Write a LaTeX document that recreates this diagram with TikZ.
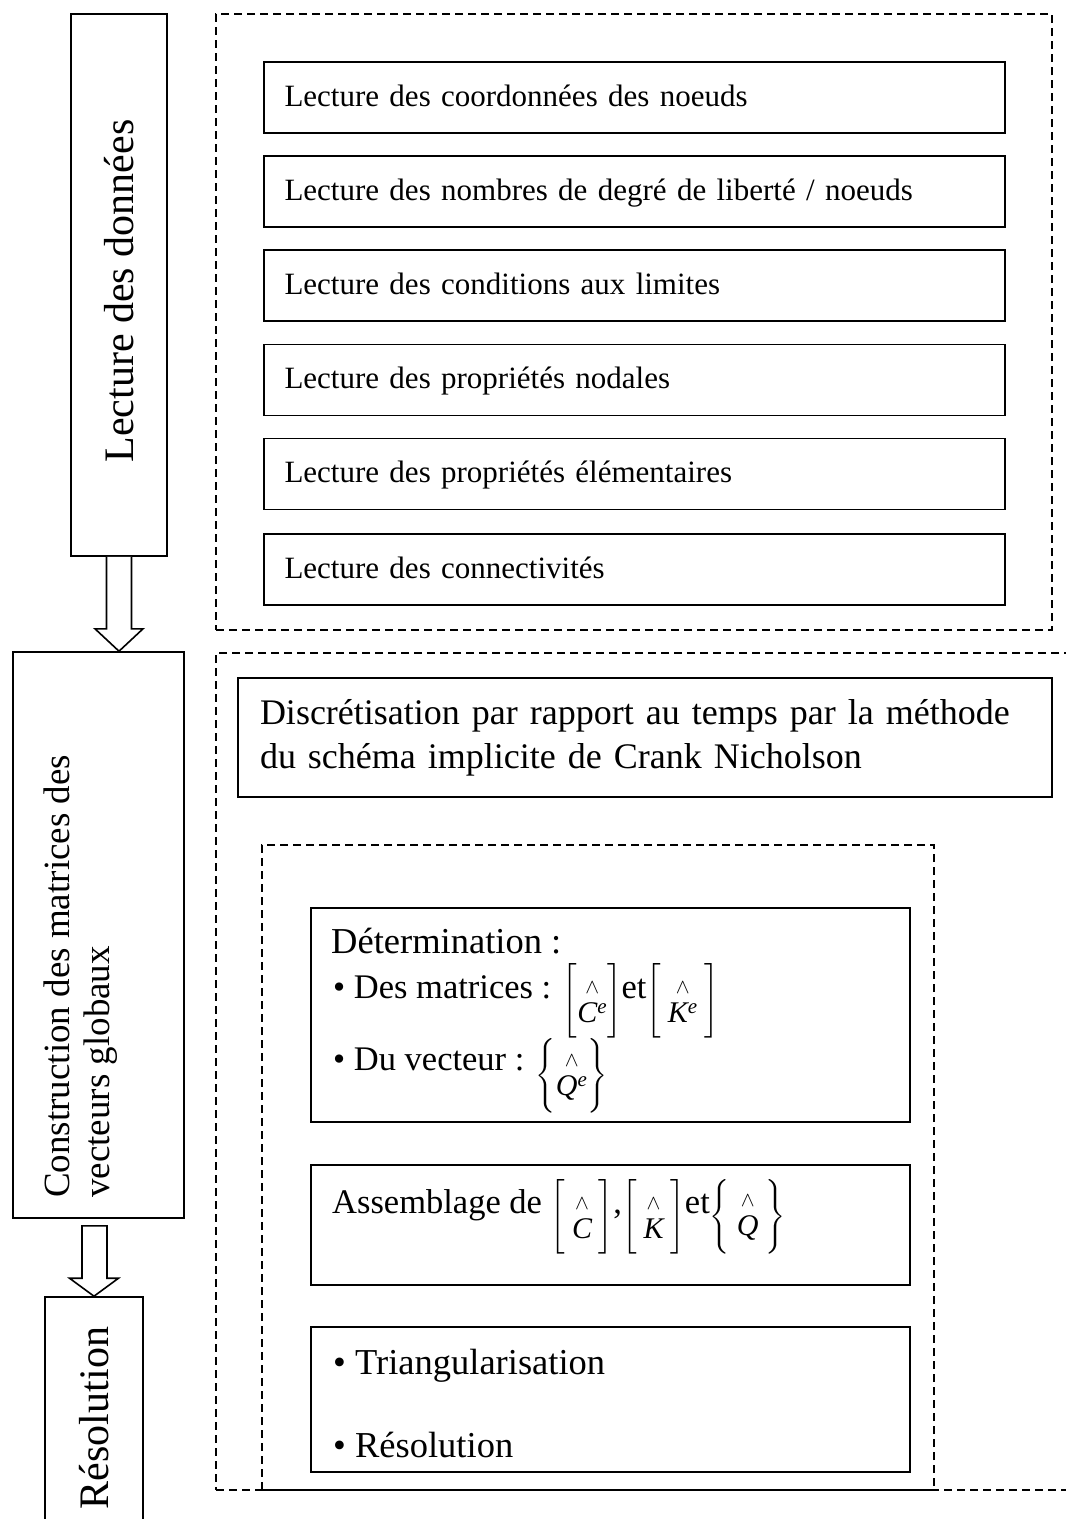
\documentclass[tikz,border=0pt]{standalone}
\usepackage{amsmath}
\usepackage{fontspec}
\setmainfont{Liberation Serif}
\usetikzlibrary{calc}
\delimitershortfall=0pt
\delimiterfactor=1000
% #1 open, #2 close, #3 size, #4 shift, #5 content
\newcommand{\dlm}[5]{{\fontsize{30}{30}\selectfont\raisebox{#4}{$\left#1\vrule height \dimexpr #3/2+0.25em\relax depth \dimexpr #3/2-0.25em\relax width 0pt \vcenter{\hbox{$#5$}}\right#2$}}}
\newcommand{\hv}[1]{\stackrel{\raisebox{4pt}{$\scriptstyle\wedge$}}{#1}}
\begin{document}
\begin{tikzpicture}[x=1pt,y=-1pt,
  sbox/.style={draw, line width=1.6pt, inner sep=0pt},
  dbox/.style={draw, line width=1.8pt, dash pattern=on 8pt off 5pt, inner sep=0pt},
  lbox/.style={sbox, minimum width=741pt, minimum height=71pt, text width=700pt, inner xsep=20pt, align=left,
    text height=21pt, text depth=4pt, font=\fontsize{31}{37}\selectfont},
  txt/.style={anchor=base west, inner sep=0pt, font=\fontsize{36.5}{42}\selectfont},
  mtxt/.style={anchor=base west, inner sep=0pt, font=\fontsize{34.5}{40}\selectfont},
  blockarrow/.style={draw, line width=1.6pt, fill=white, line join=miter}]
\useasboundingbox (0,0) rectangle (1066,1519);

% left column boxes
\node[sbox, minimum width=96pt, minimum height=542pt] (b1) at (119,285) {};
\node[sbox, minimum width=171pt, minimum height=566pt] (b2) at (98.5,935) {};
\node[sbox, minimum width=98pt, minimum height=300pt] (b3) at (94,1447) {};
\node[rotate=90, inner sep=0pt, font=\fontsize{42}{48}\selectfont] (t1) at (119,291) {Lecture des données};
\node[rotate=90, anchor=west, align=left, inner sep=0pt, font=\fontsize{37}{40}\selectfont] (t2) at (81,1198) {Construction des matrices des\\vecteurs globaux};
\node[rotate=90, inner sep=0pt, font=\fontsize{42}{48}\selectfont] (t3) at (94,1418) {Résolution};

% block arrows
\draw[blockarrow] ($(b1.south)+(-12.5,0)$) -- ($(b1.south)+(-12.5,72)$) -- ($(b1.south)+(-24,72)$)
  -- (b1.south |- b2.north) -- ($(b1.south)+(24,72)$) -- ($(b1.south)+(12.5,72)$) -- ($(b1.south)+(12.5,0)$);
\draw[blockarrow] ($(b3.north |- b2.south)+(-12,7)$)
  -- ($(b3.north)+(-12,-18)$) -- ($(b3.north)+(-24.5,-18)$) -- (b3.north)
  -- ($(b3.north)+(24.5,-18)$) -- ($(b3.north)+(13,-18)$) -- ($(b3.north |- b2.south)+(13,7)$) -- cycle;

% upper dashed group
\node[dbox, minimum width=836pt, minimum height=616pt] (g1) at (634,322) {};
\node[lbox] (l1) at (634.5,97.5) {Lecture des coordonnées des noeuds};
\node[lbox] (l2) at (634.5,191.5) {Lecture des nombres de degré de liberté / noeuds};
\node[lbox] (l3) at (634.5,285.5) {Lecture des conditions aux limites};
\node[lbox] (l4) at (634.5,380) {Lecture des propriétés nodales};
\node[lbox] (l5) at (634.5,474) {Lecture des propriétés élémentaires};
\node[lbox] (l6) at (634.5,569.5) {Lecture des connectivités};

% lower dashed group
\node[dbox, minimum width=874pt, minimum height=837pt] (g2) at (653,1071.5) {};
\node[sbox, minimum width=814pt, minimum height=119pt, text width=770pt, inner xsep=22pt, align=left,
  font=\fontsize{36}{44}\selectfont] (disc) at (645,737.5)
  {Discrétisation par rapport au temps par la méthode\\du schéma implicite de Crank Nicholson};
\node[dbox, minimum width=672pt, minimum height=645pt] (g3) at (598,1167.5) {};

\node[sbox, minimum width=599pt, minimum height=214pt] (det) at (610.5,1015) {};
\node[sbox, minimum width=599pt, minimum height=120pt] (ass) at (610.5,1225) {};
\node[sbox, minimum width=599pt, minimum height=145pt] (tri) at (610.5,1399.5) {};

\node[txt] (d1) at (331,953) {Détermination :};
\node[mtxt] (d2) at (333,998) {\textbullet\ Des matrices : \dlm{[}{]}{64pt}{-9.5pt}{\hv{\mathit{C}^{\mathit{e}}}}et\dlm{[}{]}{64pt}{-9.5pt}{\;\hv{\mathit{K}^{\mathit{e}}}\;}};
\node[mtxt] (d3) at (333,1070) {\textbullet\ Du vecteur : \dlm{\{}{\}}{60pt}{-12.5pt}{\hv{\mathit{Q}^{\mathit{e}}}}};
\node[mtxt] (as1) at (332,1213) {Assemblage de \dlm{[}{]}{65pt}{-10pt}{\;\hv{\mathit{C}}\;},\dlm{[}{]}{65pt}{-10pt}{\;\hv{\mathit{K}}\;}et\dlm{\{}{\}}{65pt}{-10pt}{\;\hv{\mathit{Q}}\;}};
\node[txt] (r1) at (333,1374) {\textbullet\ Triangularisation};
\node[txt] (r2) at (333,1457) {\textbullet\ Résolution};
\end{tikzpicture}
\end{document}
